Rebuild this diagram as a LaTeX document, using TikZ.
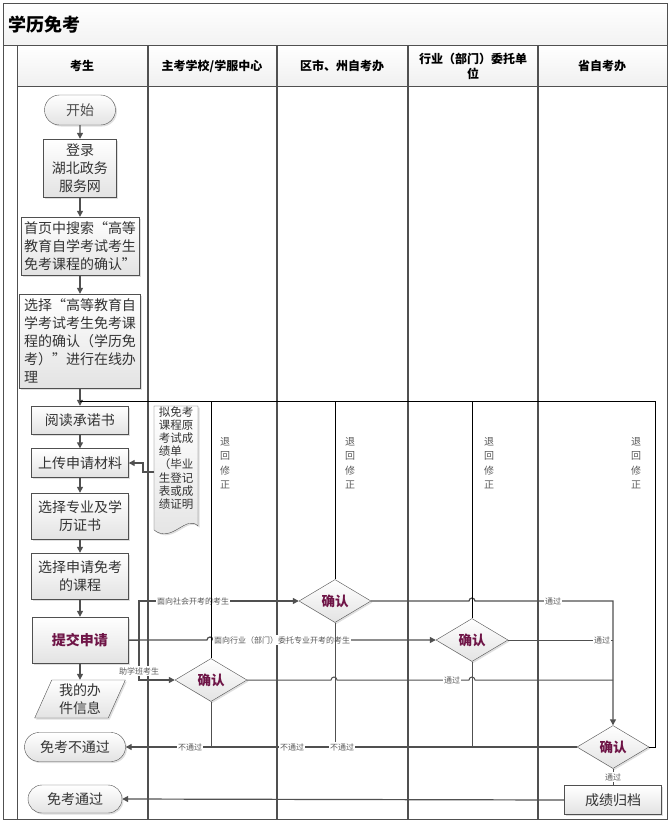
\documentclass[tikz,border=0pt]{standalone}
\usepackage{fontspec}
\setmainfont{Noto Sans CJK SC}
\usetikzlibrary{arrows.meta,shapes.geometric,shapes.misc,shadows}
\definecolor{lanegray}{RGB}{80,80,80}
\definecolor{okred}{RGB}{110,20,70}
\tikzset{
  flowbox/.style={draw=lanegray, top color=white, bottom color=gray!22,
    drop shadow={opacity=0.25,shadow xshift=1.5pt,shadow yshift=-1.5pt},
    align=center, inner sep=1pt, text=black!80, font=\fontsize{14}{18}\selectfont},
  termbox/.style={flowbox, rounded rectangle},
  iobox/.style={flowbox, trapezium, trapezium left angle=68, trapezium right angle=112,
    trapezium stretches=true},
  checkbox/.style={flowbox, diamond, inner sep=0pt, minimum width=72pt, minimum height=43pt,
    text=okred, font=\fontsize{13.5}{16}\selectfont\bfseries},
  lanehead/.style={font=\fontsize{12}{15}\selectfont\bfseries, align=center},
  flow/.style={draw=lanegray, line width=1.2pt, -{Triangle[length=6pt,width=6pt]}},
  flowline/.style={draw=lanegray, line width=1pt},
  backline/.style={draw=black, line width=0.7pt},
  tag/.style={fill=white, inner sep=1pt, text=gray!70!black, font=\fontsize{8}{9}\selectfont},
  backtag/.style={align=center, text=gray!70!black, font=\fontsize{10}{14.5}\selectfont}
}
\begin{document}
\begin{tikzpicture}[x=1pt,y=-1pt]
\useasboundingbox (0,0) rectangle (671,823);
% frame and lanes
\shade[top color=white,bottom color=gray!10] (3,3) rectangle (667,45);
\shade[top color=white,bottom color=gray!12] (17,45) rectangle (667,86);
\draw[lanegray,line width=1pt] (3,3) rectangle (667,819);
\draw[lanegray,line width=1pt] (3,45) -- (667,45) (17,86) -- (667,86) (17,45) -- (17,819);
\foreach \x in {148,277,408,538}
  \draw[lanegray,line width=1.3pt] (\x,45) -- (\x,819);
\node[anchor=west,font=\fontsize{18}{20}\selectfont\bfseries] (title) at (5,25) {学历免考};
\node[lanehead] (h1) at (82,66) {考生};
\node[lanehead] (h2) at (212,66) {主考学校/学服中心};
\node[lanehead] (h3) at (342,66) {区市、州自考办};
\node[lanehead] (h4) at (473,66) {行业（部门）委托单\\位};
\node[lanehead] (h5) at (602,66) {省自考办};

% candidate lane
\node[termbox,minimum width=73pt,minimum height=30pt,text=gray!60!black] (start) at (80,110) {开始};
\node[flowbox,minimum width=73pt,minimum height=58pt] (login) at (80,168) {登录\\湖北政务\\服务网};
\node[flowbox,minimum width=118pt,minimum height=58pt,align=left] (search) at (80,246)
  {首页中搜索“高等\\教育自学考试考生\\免考课程的确认”};
\node[flowbox,minimum width=121pt,minimum height=94pt,align=left] (choose) at (80,341)
  {选择“高等教育自\\学考试考生免考课\\程的确认（学历免\\考）”进行在线办\\理};
\node[flowbox,minimum width=97pt,minimum height=28pt] (read) at (80,420) {阅读承诺书};
\node[flowbox,minimum width=97pt,minimum height=29pt] (upload) at (80,463) {上传申请材料};
\node[flowbox,minimum width=97pt,minimum height=46pt] (major) at (80,516) {选择专业及学\\历证书};
\node[flowbox,minimum width=97pt,minimum height=46pt] (course) at (80,576) {选择申请免考\\的课程};
\node[flowbox,minimum width=96pt,minimum height=46pt,text=okred,
  font=\fontsize{14}{18}\selectfont\bfseries] (submit) at (80,640) {提交申请};
\node[iobox,minimum width=91pt,minimum height=38pt] (info) at (80,699) {我的办\\件信息};
\node[termbox,minimum width=103pt,minimum height=29pt] (fail) at (75,747) {免考不通过};
\node[termbox,minimum width=96pt,minimum height=28pt] (pass) at (75,799) {免考通过};

% document
\shade[top color=white,bottom color=gray!22,draw=lanegray,
  drop shadow={opacity=0.25,shadow xshift=1.5pt,shadow yshift=-1.5pt}]
  (154,406) -- (198,406) -- (198,526)
  .. controls (186,514) and (172,544) .. (154,530) -- cycle;
\node[align=left,inner sep=0pt,text=black!80,font=\fontsize{11.5}{13.2}\selectfont] (doc) at (176,458)
  {拟免考\\课程原\\考试成\\绩单\\（毕业\\生登记\\表或成\\绩证明};
\coordinate (docout) at (154,472);

% checks
\node[checkbox] (d1) at (211,680) {确认};
\node[checkbox] (d2) at (335,601) {确认};
\node[checkbox] (d3) at (472,640) {确认};
\node[checkbox] (d4) at (613,747) {确认};
\node[flowbox,minimum width=97pt,minimum height=29pt] (archive) at (613,800) {成绩归档};

\coordinate (back) at (80,401);
\coordinate (backr) at (655,401);
\coordinate (fork) at (139,640);
\coordinate (merge) at (613,601);

% main flow
\draw[flow] (start) -- (login);
\draw[flow] (login) -- (search);
\draw[flow] (search) -- (choose);
\draw[flow] (choose) -- (read);
\draw[flow] (read) -- (upload);
\draw[flow] (upload) -- (major);
\draw[flow] (major) -- (course);
\draw[flow] (course) -- (submit);
\draw[flow] (submit) -- (info);
\draw[flow] (docout) -- (143,472) -- (143,463) -- (upload.east);

% routes after submit
\draw[flowline] (submit.east) -- (fork);
\draw[flow] (fork) |- (d2.west);
\draw[flow] (fork) |- (d1.west);
\draw[flow] (submit.east) -- (207,640) arc[start angle=180,end angle=360,radius=3] -- (d3.west);
\node[tag] at (193,601) {面向社会开考的考生};
\node[tag] at (282,640) {面向行业（部门）委托专业开考的考生};
\node[tag] at (139,671) {助学班考生};

% passed
\draw[flowline] (d1.east) -- (331,680) arc[start angle=180,end angle=360,radius=3]
  -- (469,680) arc[start angle=180,end angle=360,radius=3] -- (613,680);
\draw[flowline] (d3.east) -- (613,640);
\draw[flow] (d2.east) -- (469,601) arc[start angle=180,end angle=360,radius=3]
  -- (merge) -- (d4.north);
\node[tag] at (452,680) {通过};
\node[tag] at (553,601) {通过};
\node[tag] at (602,640) {通过};
\draw[flowline] (d4.south) -- (archive.north);
\node[tag] at (613,777) {通过};
\draw[flow] (archive.west) -- (pass.east);

% not passed
\draw[flowline] (d1.south) -- (d1.south |- fail.east);
\draw[flowline] (d2.south) -- (d2.south |- fail.east);
\draw[flowline] (d3.south) -- (d3.south |- fail.east);
\draw[flow] (d4.west) -- (fail.east);
\node[tag] at (190,747) {不通过};
\node[tag] at (292,747) {不通过};
\node[tag] at (342,747) {不通过};

% sent back
\draw[backline] (d4.east) -| (backr) -- (back);
\draw[backline] (d1.north) -- (d1.north |- back);
\draw[backline] (d2.north) -- (d2.north |- back);
\draw[backline] (d3.north) -- (d3.north |- back);
\node[backtag] at (225,463) {退\\回\\修\\正};
\node[backtag] at (350,463) {退\\回\\修\\正};
\node[backtag] at (489,463) {退\\回\\修\\正};
\node[backtag] at (636,463) {退\\回\\修\\正};
\end{tikzpicture}
\end{document}
